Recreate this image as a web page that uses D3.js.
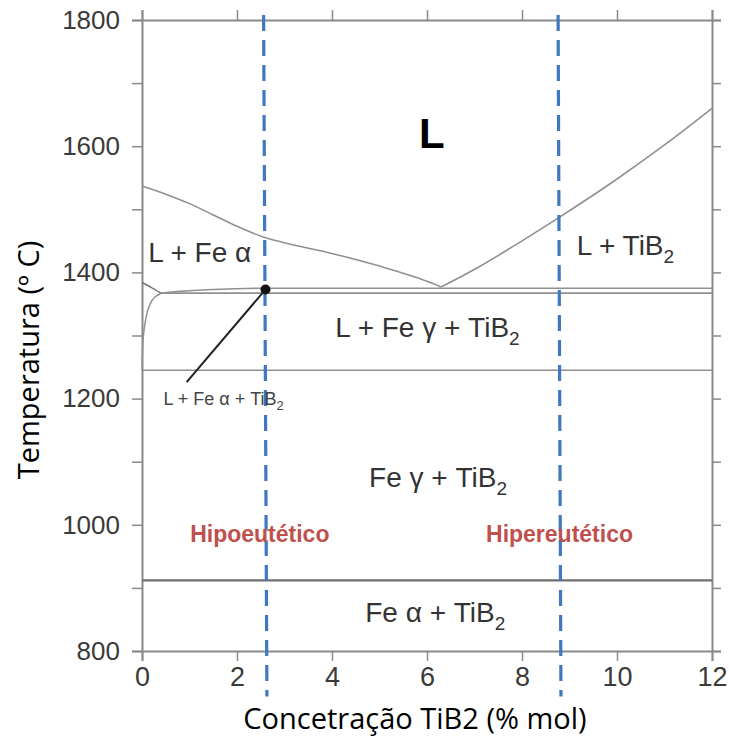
<!DOCTYPE html>
<html>
<head>
<meta charset="utf-8">
<script src="https://cdn.jsdelivr.net/npm/d3@7"></script>
<style>
  body { margin: 0; background: #fff; }
  svg text { font-family: "Liberation Sans", Arial, sans-serif; }
</style>
</head>
<body>
<div id="chart"></div>
<script>
// chart data (composition in % mol TiB2, temperature in C)
let xTicks = [0, 2, 4, 6, 8, 10, 12];
let yTicks = [800, 1000, 1200, 1400, 1600, 1800];
let yMinor = [900, 1100, 1300, 1500, 1700];

let liquidusLeft = [[0, 1537], [0.5, 1524], [1, 1509], [1.5, 1491], [2, 1473], [2.6, 1455], [3, 1447], [4, 1430], [5, 1410], [6, 1386], [6.3, 1377]];
let liquidusRight = [[6.3, 1377], [7.1, 1409], [8, 1450], [8.8, 1488], [10, 1548], [11, 1602], [12, 1660]];
let eutecticUpper = [[0.4, 1367], [0.8, 1370], [1.5, 1373], [2.6, 1375], [12, 1375]];
let eutecticLower = [[0.4, 1367], [12, 1367]];
let alphaSolvus = [[0, 1384], [0.2, 1376], [0.4, 1367]];
let gammaBoundary = [[0, 1245], [0.02, 1290], [0.07, 1322], [0.15, 1346], [0.27, 1361], [0.4, 1367]];
let solidusT = 1245;
let alphaGammaT = 912;

let dashedLines = [[[2.56, 1808], [2.63, 728]], [[8.76, 1808], [8.82, 728]]];
let eutecticPoint = [2.6, 1373];
let pointerEnd = [0.94, 1226];

let phaseLabels = [
  { text: "L + Fe α", x: 0.13, t: 1416, sub: "" },
  { text: "L + TiB", x: 9.15, t: 1428, sub: "2" },
  { text: "L + Fe γ + TiB", x: 4.07, t: 1298, sub: "2" },
  { text: "Fe γ + TiB", x: 4.78, t: 1060, sub: "2" },
  { text: "Fe α + TiB", x: 4.7, t: 846, sub: "2" }
];
let regionLabels = [
  { text: "Hipoeutético", x: 2.48, t: 973 },
  { text: "Hipereutético", x: 8.79, t: 973 }
];

let svgWidth = 730, svgHeight = 742;
let margin = { top: 20, right: 18, bottom: 91, left: 142 };
let width = svgWidth - margin.left - margin.right;
let height = svgHeight - margin.top - margin.bottom;

let svg = d3.select("#chart").append("svg")
  .attr("width", svgWidth)
  .attr("height", svgHeight);

let g = svg.append("g").attr("transform", `translate(${margin.left},${margin.top})`);

let x = d3.scaleLinear().domain([0, 12]).range([0, width]);
let y = d3.scaleLinear().domain([800, 1800]).range([height, 0]);

let axisColor = "#8a8a8a";
let allY = yTicks.concat(yMinor).sort((a, b) => a - b);

// axes on all four sides
let leftAxis = g.append("g").call(d3.axisLeft(y).tickValues(allY).tickSize(10).tickFormat(d => yTicks.includes(d) ? d : ""));
let rightAxis = g.append("g").attr("transform", `translate(${width},0)`).call(d3.axisRight(y).tickValues(allY).tickSize(9).tickFormat(""));
let bottomAxis = g.append("g").attr("transform", `translate(0,${height})`).call(d3.axisBottom(x).tickValues(xTicks).tickSize(10));
let topAxis = g.append("g").call(d3.axisTop(x).tickValues(xTicks).tickSize(10).tickFormat(""));

[leftAxis, rightAxis, bottomAxis, topAxis].forEach(a => {
  a.select(".domain").attr("stroke", axisColor).attr("stroke-width", 2);
  a.selectAll(".tick line").attr("stroke", axisColor).attr("stroke-width", 1.5);
  a.selectAll(".tick text").attr("fill", "#3a3a3a").style("font-size", "26px");
});
leftAxis.selectAll(".tick text").attr("x", -22);
bottomAxis.selectAll(".tick text").attr("y", 16).style("font-size", "27px");

let line = d3.line().x(d => x(d[0])).y(d => y(d[1]));
let curve = d3.line().x(d => x(d[0])).y(d => y(d[1])).curve(d3.curveMonotoneX);

let phaseColor = "#909090";
[liquidusLeft, liquidusRight].forEach(p => {
  g.append("path").datum(p).attr("d", curve).attr("fill", "none").attr("stroke", phaseColor).attr("stroke-width", 1.6);
});
g.append("path").datum(eutecticUpper).attr("d", curve).attr("fill", "none").attr("stroke", phaseColor).attr("stroke-width", 1.6);
g.append("path").datum(eutecticLower).attr("d", line).attr("fill", "none").attr("stroke", phaseColor).attr("stroke-width", 1.8);
g.append("path").datum(alphaSolvus).attr("d", curve).attr("fill", "none").attr("stroke", "#777").attr("stroke-width", 1.5);
g.append("path").datum(gammaBoundary).attr("d", d3.line().x(d => x(d[0])).y(d => y(d[1])).curve(d3.curveMonotoneY))
  .attr("fill", "none").attr("stroke", phaseColor).attr("stroke-width", 1.5);

g.append("line").attr("x1", x(0)).attr("x2", x(12)).attr("y1", y(solidusT)).attr("y2", y(solidusT))
  .attr("stroke", phaseColor).attr("stroke-width", 1.6);
g.append("line").attr("x1", x(0)).attr("x2", x(12)).attr("y1", y(alphaGammaT)).attr("y2", y(alphaGammaT))
  .attr("stroke", "#6e6e6e").attr("stroke-width", 2.2);

// pointer to the small three phase field
g.append("line")
  .attr("x1", x(eutecticPoint[0])).attr("y1", y(eutecticPoint[1]))
  .attr("x2", x(pointerEnd[0])).attr("y2", y(pointerEnd[1]))
  .attr("stroke", "#222").attr("stroke-width", 2);

// dashed composition lines
dashedLines.forEach(d => {
  g.append("line")
    .attr("x1", x(d[0][0])).attr("y1", y(d[0][1]))
    .attr("x2", x(d[1][0])).attr("y2", y(d[1][1]))
    .attr("stroke", "#3f77c0").attr("stroke-width", 3.2)
    .attr("stroke-dasharray", "16 9");
});

g.append("circle").attr("cx", x(eutecticPoint[0])).attr("cy", y(eutecticPoint[1])).attr("r", 5)
  .attr("fill", "#111");

// phase field labels
g.append("text").attr("x", x(6.1)).attr("y", y(1640) + 27)
  .attr("text-anchor", "middle").style("font-size", "42px").style("font-weight", "bold")
  .attr("fill", "#000").text("L");

phaseLabels.forEach(l => {
  let t = g.append("text").attr("x", x(l.x)).attr("y", y(l.t))
    .style("font-size", "28px").attr("fill", "#333").text(l.text);
  if (l.sub) {
    t.append("tspan").attr("dy", 8).style("font-size", "19px").text(l.sub);
  }
});

let small = g.append("text").attr("x", x(0.45)).attr("y", y(1190))
  .style("font-size", "18px").attr("fill", "#444").text("L + Fe α + TiB");
small.append("tspan").attr("dy", 5).style("font-size", "13px").text("2");

regionLabels.forEach(l => {
  g.append("text").attr("x", x(l.x)).attr("y", y(l.t))
    .attr("text-anchor", "middle").style("font-size", "23px").style("font-weight", "bold")
    .attr("fill", "#c0504d").text(l.text);
});

// axis titles
svg.append("text")
  .attr("transform", "translate(39,360) rotate(-90)")
  .attr("text-anchor", "middle")
  .style("font-family", "'Open Sans', 'Noto Sans', sans-serif")
  .style("font-size", "29px").attr("fill", "#000")
  .text("Temperatura (º C)");

svg.append("text")
  .attr("x", 415).attr("y", 729)
  .attr("text-anchor", "middle")
  .style("font-family", "'Open Sans', 'Noto Sans', sans-serif")
  .style("font-size", "29px").attr("fill", "#000")
  .text("Concetração TiB2 (% mol)");
</script>
</body>
</html>
